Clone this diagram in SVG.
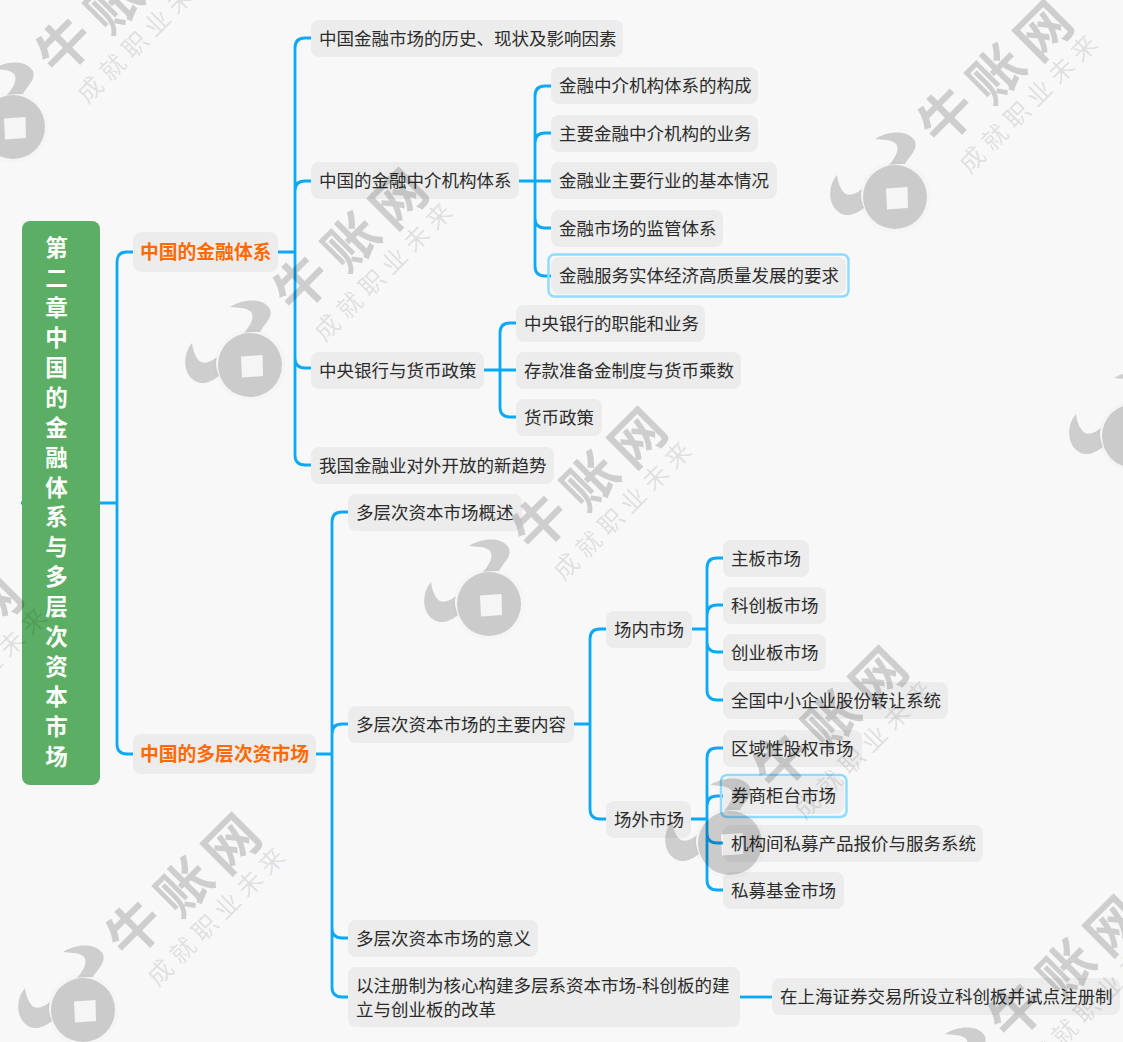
<svg xmlns="http://www.w3.org/2000/svg" xmlns:xlink="http://www.w3.org/1999/xlink" width="1123" height="1042" viewBox="0 0 1123 1042">
<style>
text{font-family:"Noto Sans CJK SC","Noto Sans",sans-serif}
.n{fill:#ececec}
.t{font-size:17.5px;fill:#2b2b2b}
.o{font-size:18.8px;font-weight:700;fill:#ff6a00}
.h{fill:none;stroke:#8fdcff;stroke-width:2.5}
.c{fill:none;stroke:#0aa9f7;stroke-width:2.8}
.w1{font-size:54px;font-weight:700;fill:#000;fill-opacity:.17;text-anchor:middle}
.w2{font-size:25px;font-weight:400;fill:#000;fill-opacity:.11;text-anchor:middle;letter-spacing:6.5px}
.w3{fill:#000;fill-opacity:.17}
</style>
<defs>
<g id="wm">
<circle r="36" fill="#000" fill-opacity=".012"/>
<path class="w3" fill-rule="evenodd" d="M-32,0a32,32 0 1,0 64,0a32,32 0 1,0 -64,0ZM-9,-8.500L12.500,-10L13,11L-8,12.500Z"/>
<path class="w3" d="M-20,-58C-8,-66 13,-68 20,-56C23,-47 15,-42 10,-33C4,-33 -2,-33 -6,-32C2,-41 5,-50 0,-54C-6,-58 -13,-57 -20,-58Z"/>
<path class="w3" d="M-58,-22C-67,-12 -68,8 -55,16C-47,21 -37,16 -31,11C-34,3 -35,-2 -33,-8C-38,-4 -44,-1 -49,-3C-54,-6 -57,-14 -58,-22Z"/>
<text class="w1" transform="translate(48,-85) rotate(-45)" y="25">牛</text>
<text class="w1" transform="translate(98,-127) rotate(-45)" y="25">账</text>
<text class="w1" transform="translate(145,-170) rotate(-45)" y="25">网</text>
<text class="w2" transform="translate(132.500,-94) rotate(-45)" x="3" y="10">成就职业未来</text>
</g>
</defs>
<rect width="1123" height="1042" fill="#f8f8f8"/>
<g id="connectors">
<path class="c" d="M21,503H117"/>
<path class="c" d="M117,503V262Q117,252 127,252H133M117,503V744Q117,754 127,754H133"/>
<path class="c" d="M278,252H295M295,252V48Q295,38 305,38H311M295,252V191Q295,181 305,181H311M295,252V358Q295,368 305,368H311M295,252V455Q295,465 305,465H311"/>
<path class="c" d="M519,181H551M535,181V96Q535,86 545,86H551M535,181V143Q535,133 545,133H551M535,181V218Q535,228 545,228H551M535,181V266Q535,276 545,276H551"/>
<path class="c" d="M484,370H516M500,370V333Q500,323 510,323H516M500,370V407Q500,417 510,417H516"/>
<path class="c" d="M316,754H332M332,754V522Q332,512 342,512H348M332,754V734Q332,724 342,724H348M332,754V928Q332,938 342,938H348M332,754V987Q332,997 342,997H348"/>
<path class="c" d="M574,724H590M590,724V639Q590,629 600,629H606M590,724V809Q590,819 600,819H606"/>
<path class="c" d="M692,629H707M707,629V568Q707,558 717,558H723M707,629V615Q707,605 717,605H723M707,629V642Q707,652 717,652H723M707,629V690Q707,700 717,700H723"/>
<path class="c" d="M691,819H707M707,819V758Q707,748 717,748H723M707,819V806Q707,796 717,796H723M707,819V833Q707,843 717,843H723M707,819V880Q707,890 717,890H723"/>
<path class="c" d="M740,997H772"/>
</g>
<g id="root"><rect x="22" y="221" width="78" height="564" rx="8" fill="#5bae63"/>
<text font-size="22.5" font-weight="700" fill="#fff" text-anchor="middle"><tspan x="56.500" y="256">第</tspan><tspan x="56.500" y="286">二</tspan><tspan x="56.500" y="316">章</tspan><tspan x="56.500" y="346">中</tspan><tspan x="56.500" y="376">国</tspan><tspan x="56.500" y="406">的</tspan><tspan x="56.500" y="436">金</tspan><tspan x="56.500" y="466">融</tspan><tspan x="56.500" y="496">体</tspan><tspan x="56.500" y="525">系</tspan><tspan x="56.500" y="555">与</tspan><tspan x="56.500" y="585">多</tspan><tspan x="56.500" y="615">层</tspan><tspan x="56.500" y="645">次</tspan><tspan x="56.500" y="675">资</tspan><tspan x="56.500" y="705">本</tspan><tspan x="56.500" y="735">市</tspan><tspan x="56.500" y="765">场</tspan></text></g>
<g id="n1"><rect class="n" x="133" y="232" width="145" height="40" rx="8"/><text class="o" x="140" y="259">中国的金融体系</text></g>
<g id="n2"><rect class="n" x="133" y="734" width="183" height="40" rx="8"/><text class="o" x="140" y="761">中国的多层次资市场</text></g>
<g id="n11"><rect class="n" x="311" y="20" width="312" height="37" rx="8"/><text class="t" x="319" y="45">中国金融市场的历史、现状及影响因素</text></g>
<g id="n12"><rect class="n" x="311" y="162" width="208" height="37" rx="8"/><text class="t" x="319" y="187">中国的金融中介机构体系</text></g>
<g id="n13"><rect class="n" x="311" y="352" width="173" height="37" rx="8"/><text class="t" x="319" y="377">中央银行与货币政策</text></g>
<g id="n14"><rect class="n" x="311" y="447" width="243" height="37" rx="8"/><text class="t" x="319" y="472">我国金融业对外开放的新趋势</text></g>
<g id="n121"><rect class="n" x="551" y="67" width="207" height="37" rx="8"/><text class="t" x="559" y="92">金融中介机构体系的构成</text></g>
<g id="n122"><rect class="n" x="551" y="115" width="207" height="37" rx="8"/><text class="t" x="559" y="140">主要金融中介机构的业务</text></g>
<g id="n123"><rect class="n" x="551" y="162" width="226" height="37" rx="8"/><text class="t" x="559" y="187">金融业主要行业的基本情况</text></g>
<g id="n124"><rect class="n" x="551" y="210" width="172" height="37" rx="8"/><text class="t" x="559" y="235">金融市场的监管体系</text></g>
<g id="n125"><rect class="h" x="548.500" y="254.500" width="300" height="42" rx="6"/><rect class="n" x="551" y="257" width="295" height="37" rx="8"/><text class="t" x="559" y="282">金融服务实体经济高质量发展的要求</text></g>
<g id="n131"><rect class="n" x="516" y="305" width="189" height="37" rx="8"/><text class="t" x="524" y="330">中央银行的职能和业务</text></g>
<g id="n132"><rect class="n" x="516" y="352" width="225" height="37" rx="8"/><text class="t" x="524" y="377">存款准备金制度与货币乘数</text></g>
<g id="n133"><rect class="n" x="516" y="399" width="86" height="37" rx="8"/><text class="t" x="524" y="424">货币政策</text></g>
<g id="n21"><rect class="n" x="348" y="494" width="174" height="37" rx="8"/><text class="t" x="356" y="519">多层次资本市场概述</text></g>
<g id="n22"><rect class="n" x="348" y="706" width="226" height="37" rx="8"/><text class="t" x="356" y="731">多层次资本市场的主要内容</text></g>
<g id="n23"><rect class="n" x="348" y="920" width="190" height="37" rx="8"/><text class="t" x="356" y="945">多层次资本市场的意义</text></g>
<g id="n24"><rect class="n" x="348" y="967" width="392" height="60" rx="8"/><text class="t"><tspan x="356" y="991.500">以注册制为核心构建多层系资本市场-科创板的建</tspan><tspan x="356" y="1015.500">立与创业板的改革</tspan></text></g>
<g id="n221"><rect class="n" x="606" y="611" width="86" height="37" rx="8"/><text class="t" x="614" y="636">场内市场</text></g>
<g id="n222"><rect class="n" x="606" y="801" width="85" height="37" rx="8"/><text class="t" x="614" y="826">场外市场</text></g>
<g id="n2211"><rect class="n" x="723" y="540" width="86" height="37" rx="8"/><text class="t" x="731" y="565">主板市场</text></g>
<g id="n2212"><rect class="n" x="723" y="587" width="103" height="37" rx="8"/><text class="t" x="731" y="612">科创板市场</text></g>
<g id="n2213"><rect class="n" x="723" y="634" width="103" height="37" rx="8"/><text class="t" x="731" y="659">创业板市场</text></g>
<g id="n2214"><rect class="n" x="723" y="682" width="225" height="37" rx="8"/><text class="t" x="731" y="707">全国中小企业股份转让系统</text></g>
<g id="n2221"><rect class="n" x="723" y="730" width="139" height="37" rx="8"/><text class="t" x="731" y="755">区域性股权市场</text></g>
<g id="n2222"><rect class="h" x="721" y="775" width="125.500" height="42" rx="6"/><rect class="n" x="723" y="777" width="121" height="37" rx="8"/><text class="t" x="731" y="802">券商柜台市场</text></g>
<g id="n2223"><rect class="n" x="723" y="825" width="260" height="37" rx="8"/><text class="t" x="731" y="850">机构间私募产品报价与服务系统</text></g>
<g id="n2224"><rect class="n" x="723" y="872" width="121" height="37" rx="8"/><text class="t" x="731" y="897">私募基金市场</text></g>
<g id="n241"><rect class="n" x="772" y="978" width="348" height="37" rx="8"/><text class="t" x="780" y="1003">在上海证券交易所设立科创板并试点注册制</text></g>
<g id="watermarks">
<use xlink:href="#wm" transform="translate(895,197)"/>
<use xlink:href="#wm" transform="translate(250,365)"/>
<use xlink:href="#wm" transform="translate(489,604)"/>
<use xlink:href="#wm" transform="translate(730,843)"/>
<use xlink:href="#wm" transform="translate(13,127)"/>
<use xlink:href="#wm" transform="translate(1134,436)"/>
<use xlink:href="#wm" transform="translate(83,1010)"/>
<use xlink:href="#wm" transform="translate(965,1092)"/>
<use xlink:href="#wm" transform="translate(-155,770)"/>
</g>
</svg>
